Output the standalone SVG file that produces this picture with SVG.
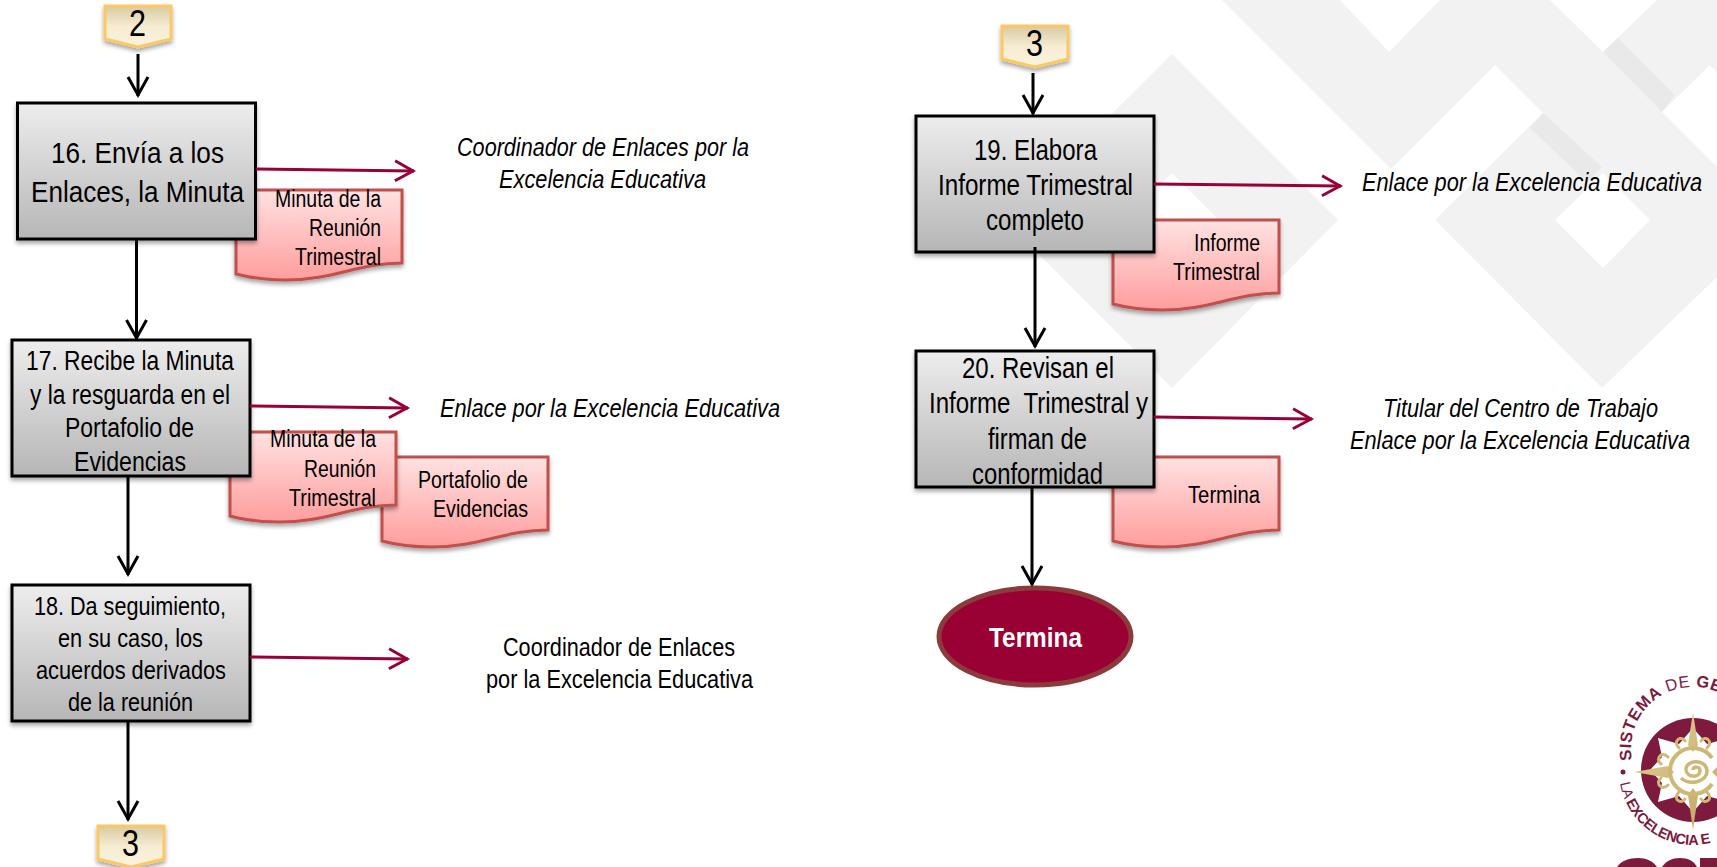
<svg xmlns="http://www.w3.org/2000/svg" width="1717" height="867" viewBox="0 0 1717 867">
<style>
text{font-family:"Liberation Sans",Arial,sans-serif;fill:#000;white-space:pre}
.b16{font-size:30px}.b17{font-size:27px}.b18{font-size:25.5px}.b19{font-size:29px}
.d{font-size:23px}.l{font-size:25px}.i{font-style:italic}.s{font-size:37px}
.box{fill:url(#gb);stroke:#000;stroke-width:3;filter:url(#sh)}
.doc{fill:url(#gd);stroke:#c0504d;stroke-width:3;filter:url(#sh)}
.shield{fill:url(#gs);stroke:#fbc865;stroke-width:3;filter:url(#sh)}
.k{fill:none;stroke:#000;stroke-width:3;marker-end:url(#mk)}
.r{fill:none;stroke:#99003a;stroke-width:3;marker-end:url(#mr)}
.lg{fill:#7d1a3d}.ar{font-size:16.5px;fill:#7d1a3d;font-weight:700;letter-spacing:.5px}.ab{font-size:14.5px;fill:#7d1a3d;font-weight:700;letter-spacing:-.4px}.thin{font-weight:400}
.cu{fill:none;stroke:#cfb775;stroke-width:3;stroke-linecap:round}
</style>
<defs>
<linearGradient id="gb" x1="0" y1="0" x2="0" y2="1"><stop offset="0" stop-color="#ededed"/><stop offset="1" stop-color="#b6b6b6"/></linearGradient>
<linearGradient id="gd" x1="0" y1="0" x2="0" y2="1"><stop offset="0" stop-color="#ffe2e2"/><stop offset="1" stop-color="#ff9d9d"/></linearGradient>
<linearGradient id="gs" x1="0" y1="0" x2="0" y2="1"><stop offset="0" stop-color="#d8caa2"/><stop offset=".5" stop-color="#f5ecd2"/><stop offset="1" stop-color="#fbf3dd"/></linearGradient>
<linearGradient id="gg" x1="0" y1="0" x2="1" y2="1"><stop offset="0" stop-color="#e3d198"/><stop offset="1" stop-color="#bd9e58"/></linearGradient>
<filter id="sh" x="-10%" y="-10%" width="125%" height="130%"><feDropShadow dx="0" dy="3" stdDeviation="2.2" flood-color="#000" flood-opacity=".35"/></filter>
<marker id="mk" markerUnits="userSpaceOnUse" markerWidth="24" markerHeight="24" refX="21" refY="12" orient="auto" viewBox="0 0 24 24"><path d="M2 2 L20 12 L2 22" fill="none" stroke="#000" stroke-width="3"/></marker>
<marker id="mr" markerUnits="userSpaceOnUse" markerWidth="24" markerHeight="24" refX="21" refY="12" orient="auto" viewBox="0 0 24 24"><path d="M2 2 L20 12 L2 22" fill="none" stroke="#99003a" stroke-width="3"/></marker>
<path id="doc" d="M0 0H166V73C122 73 98 90 50 90C30 90 15 88 0 84Z"/>
<path id="sd" d="M0 0H66V33L33 41L0 33Z"/>
<path id="arcT" d="M1632 760A62 62 0 1 1 1754 760" fill="none"/>
<path id="arcB" d="M1620 783A74 74 0 0 0 1766 783" fill="none"/>
</defs>

<g id="background">
<path fill="#f2f2f2" d="M1222 0L1391 169L1495 65L1543 113L1435 220L1602 388L1717 277V167L1662 112L1710 65L1717 72V0H1657L1603 52L1550 0H1440L1389 52L1340 0Z"/>
<path fill="#fff" d="M1603 173L1650 220L1603 268L1555 220Z"/>
<path fill="#e9e9e9" d="M1603 52L1618 38L1675 95L1662 112Z"/>
<path fill="#e9e9e9" d="M1543 113L1530 128L1587 182L1602 167Z"/>
<path fill="#f2f2f2" fill-rule="evenodd" d="M1172 54L1338 220L1172 388L1005 220ZM1172 173L1125 220L1172 267L1219 220Z"/>
</g>

<g id="logo">
<circle class="lg" cx="1693" cy="770" r="52"/>
<path fill="#fff" d="M1693 728L1707 744L1728 738L1724 757L1741 770L1724 783L1728 802L1707 796L1693 812L1679 796L1658 802L1662 783L1650 770L1662 757L1658 738L1679 744Z"/>
<path fill="url(#gg)" d="M1693 712L1698 745L1693 752L1688 745ZM1693 830L1698 795L1693 788L1688 795ZM1634 772L1668 766L1674 772L1668 778ZM1752 772L1718 766L1712 772L1718 778Z"/>
<path class="cu" d="M1679 748C1672 741 1681 735 1685 741M1707 748C1714 741 1705 735 1701 741M1679 792C1672 799 1681 805 1685 799M1707 792C1714 799 1705 805 1701 799M1668 757C1661 750 1655 760 1661 764M1668 785C1661 792 1655 782 1661 778"/>
<path fill="none" stroke="#cfb775" stroke-width="4" d="M1712 758A23 23 0 1 0 1712 784"/>
<path fill="none" stroke="#cfb775" stroke-width="3.5" d="M1693 770C1693 766 1700 766 1700 771C1700 778 1687 778 1686 770C1685 760 1705 758 1707 770C1708 782 1690 786 1681 778"/>
<circle class="lg" cx="1623" cy="772" r="2.5"/>
<text class="ar"><textPath href="#arcT">SISTEMA<tspan class="thin"> DE </tspan>GES</textPath></text>
<text class="ab"><textPath href="#arcB"><tspan class="thin">LA </tspan>EXCELENCIA E</textPath></text>
<path class="lg" d="M1617 867C1621 861 1629 858 1638 858C1646 858 1653 861 1657 867ZM1662 867C1666 861 1672 858 1680 858C1688 858 1694 861 1697 867ZM1700 867V858H1717V867Z"/>
</g>

<g id="doc-16"><use href="#doc" class="doc" x="236" y="190"/>
<text class="d" x="275" y="207" textLength="106" lengthAdjust="spacingAndGlyphs">Minuta de la</text>
<text class="d" x="309" y="236" textLength="72" lengthAdjust="spacingAndGlyphs">Reunión</text>
<text class="d" x="295" y="265" textLength="86" lengthAdjust="spacingAndGlyphs">Trimestral</text></g>
<g id="doc-17b"><use href="#doc" class="doc" x="382" y="457"/>
<text class="d" x="418" y="488" textLength="110" lengthAdjust="spacingAndGlyphs">Portafolio de</text>
<text class="d" x="433" y="517" textLength="95" lengthAdjust="spacingAndGlyphs">Evidencias</text></g>
<g id="doc-17a"><use href="#doc" class="doc" x="230" y="432"/>
<text class="d" x="270" y="447" textLength="106" lengthAdjust="spacingAndGlyphs">Minuta de la</text>
<text class="d" x="304" y="477" textLength="72" lengthAdjust="spacingAndGlyphs">Reunión</text>
<text class="d" x="289" y="506" textLength="87" lengthAdjust="spacingAndGlyphs">Trimestral</text></g>
<g id="doc-19"><use href="#doc" class="doc" x="1113" y="220"/>
<text class="d" x="1194" y="251" textLength="66" lengthAdjust="spacingAndGlyphs">Informe</text>
<text class="d" x="1173" y="280" textLength="87" lengthAdjust="spacingAndGlyphs">Trimestral</text></g>
<g id="doc-20"><use href="#doc" class="doc" x="1113" y="457"/>
<text class="d" x="1188" y="503" textLength="72" lengthAdjust="spacingAndGlyphs">Termina</text></g>

<g id="conn-2"><use href="#sd" class="shield" x="105" y="6"/>
<text class="s" x="129" y="36" textLength="17" lengthAdjust="spacingAndGlyphs">2</text></g>
<g id="conn-3a"><use href="#sd" class="shield" x="98" y="826"/>
<text class="s" x="122" y="856" textLength="17" lengthAdjust="spacingAndGlyphs">3</text></g>
<g id="conn-3b"><use href="#sd" class="shield" x="1002" y="26"/>
<text class="s" x="1026" y="56" textLength="17" lengthAdjust="spacingAndGlyphs">3</text></g>

<g id="node-16"><rect class="box" x="17.5" y="103" width="238" height="136"/>
<text class="b16" x="51" y="163" textLength="173" lengthAdjust="spacingAndGlyphs">16. Envía a los</text>
<text class="b16" x="31" y="202" textLength="213" lengthAdjust="spacingAndGlyphs">Enlaces, la Minuta</text></g>
<g id="node-17"><rect class="box" x="12" y="340" width="238" height="136"/>
<text class="b17" x="26" y="370" textLength="208" lengthAdjust="spacingAndGlyphs">17. Recibe la Minuta</text>
<text class="b17" x="30" y="404" textLength="200" lengthAdjust="spacingAndGlyphs">y la resguarda en el</text>
<text class="b17" x="65" y="437" textLength="129" lengthAdjust="spacingAndGlyphs">Portafolio de</text>
<text class="b17" x="74" y="471" textLength="112" lengthAdjust="spacingAndGlyphs">Evidencias</text></g>
<g id="node-18"><rect class="box" x="12" y="585" width="238" height="136"/>
<text class="b18" x="34" y="615" textLength="192" lengthAdjust="spacingAndGlyphs">18. Da seguimiento,</text>
<text class="b18" x="58" y="647" textLength="145" lengthAdjust="spacingAndGlyphs">en su caso, los</text>
<text class="b18" x="36" y="679" textLength="190" lengthAdjust="spacingAndGlyphs">acuerdos derivados</text>
<text class="b18" x="68" y="711" textLength="125" lengthAdjust="spacingAndGlyphs">de la reunión</text></g>
<g id="node-19"><rect class="box" x="916" y="116" width="238" height="136"/>
<text class="b19" x="974" y="160" textLength="123" lengthAdjust="spacingAndGlyphs">19. Elabora</text>
<text class="b19" x="938" y="195" textLength="195" lengthAdjust="spacingAndGlyphs">Informe Trimestral</text>
<text class="b19" x="986" y="230" textLength="98" lengthAdjust="spacingAndGlyphs">completo</text></g>
<g id="node-20"><rect class="box" x="916" y="351" width="238" height="136"/>
<text class="b19" x="962" y="378" textLength="152" lengthAdjust="spacingAndGlyphs">20. Revisan el</text>
<text class="b19" x="929" y="413" textLength="219" lengthAdjust="spacingAndGlyphs">Informe  Trimestral y</text>
<text class="b19" x="988" y="449" textLength="99" lengthAdjust="spacingAndGlyphs">firman de</text>
<text class="b19" x="972" y="484" textLength="131" lengthAdjust="spacingAndGlyphs">conformidad</text></g>
<g id="node-end"><ellipse cx="1035" cy="636.5" rx="96" ry="48.5" fill="#990033" stroke="#8c3a3c" stroke-width="5"/>
<text x="989" y="647" font-size="28" font-weight="700" style="fill:#fff" textLength="93" lengthAdjust="spacingAndGlyphs">Termina</text></g>

<g id="labels">
<text class="l i" x="457" y="156" textLength="292" lengthAdjust="spacingAndGlyphs">Coordinador de Enlaces por la</text>
<text class="l i" x="499" y="188" textLength="207" lengthAdjust="spacingAndGlyphs">Excelencia Educativa</text>
<text class="l i" x="440" y="417" textLength="340" lengthAdjust="spacingAndGlyphs">Enlace por la Excelencia Educativa</text>
<text class="l" x="503" y="656" textLength="232" lengthAdjust="spacingAndGlyphs">Coordinador de Enlaces</text>
<text class="l" x="486" y="688" textLength="267" lengthAdjust="spacingAndGlyphs">por la Excelencia Educativa</text>
<text class="l i" x="1362" y="191" textLength="340" lengthAdjust="spacingAndGlyphs">Enlace por la Excelencia Educativa</text>
<text class="l i" x="1383" y="417" textLength="275" lengthAdjust="spacingAndGlyphs">Titular del Centro de Trabajo</text>
<text class="l i" x="1350" y="449" textLength="340" lengthAdjust="spacingAndGlyphs">Enlace por la Excelencia Educativa</text>
</g>

<g id="connectors">
<path class="k" d="M138 54V96"/>
<path class="k" d="M136.5 239V339"/>
<path class="k" d="M128 476V575"/>
<path class="k" d="M128 721V820"/>
<path class="k" d="M1033 73V114"/>
<path class="k" d="M1035 247V347"/>
<path class="k" d="M1032 487V585"/>
<path class="r" d="M256 169L414 171"/>
<path class="r" d="M250 406L408 408"/>
<path class="r" d="M250 657L408 659"/>
<path class="r" d="M1154 184L1341 186"/>
<path class="r" d="M1154 417L1312 419"/>
</g>
</svg>
